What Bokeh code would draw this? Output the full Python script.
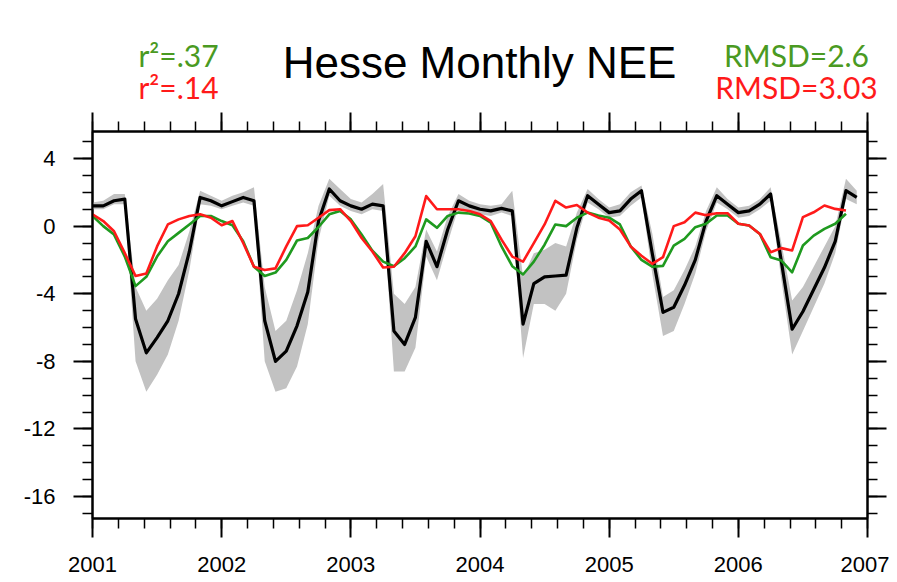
import numpy as np
from bokeh.plotting import figure
from bokeh.layouts import column
from bokeh.models import LinearAxis, FixedTicker, Range1d, ColumnDataSource
from bokeh.core.properties import value
from bokeh.embed import file_html
from bokeh.resources import INLINE

# ---- data (monthly, Jan 2001 .. Dec 2006) ----
years = [2001, 2002, 2003, 2004, 2005, 2006, 2007]
year_labels = ["2001", "2002", "2003", "2004", "2005", "2006", "2007"]
y_ticks = [-16, -12, -8, -4, 0, 4]
y_tick_labels = ["-16", "-12", "-8", "-4", "0", "4"]

title_text = "Hesse Monthly NEE"
stat_left = ["r\u00b2=.37", "r\u00b2=.14"]
stat_right = ["RMSD=2.6", "RMSD=3.03"]

obs_nee = [
    1.2, 1.2, 1.5, 1.6, -5.5, -7.5, -6.6, -5.6, -4.0, -1.5, 1.7, 1.5,
    1.2, 1.45, 1.7, 1.5, -5.6, -8.0, -7.4, -5.9, -3.9, 0.3, 2.2, 1.5,
    1.2, 1.0, 1.3, 1.2, -6.2, -7.0, -5.4, -0.9, -2.4, -0.2, 1.5, 1.2,
    1.0, 0.9, 1.05, 0.9, -5.8, -3.4, -3.0, -2.95, -2.9, -0.1, 1.8, 1.3,
    0.8, 0.9, 1.6, 2.1, -1.6, -5.1, -4.8, -3.5, -2.0, 0.3, 1.8, 1.3,
    0.8, 0.9, 1.3, 1.9, -2.1, -6.1, -5.05, -3.75, -2.45, -0.9, 2.1, 1.7,
]
obs_low = [
    1.0, 1.0, 1.3, 1.3, -8.0, -9.8, -8.8, -7.6, -5.6, -2.6, 1.3, 1.2,
    1.0, 1.2, 1.4, 1.2, -8.0, -9.8, -9.6, -8.3, -5.8, -0.8, 1.8, 1.2,
    0.9, 0.7, 1.0, 0.9, -8.6, -8.6, -7.2, -1.8, -3.2, -1.0, 1.1, 0.9,
    0.7, 0.6, 0.8, 0.6, -7.8, -4.6, -4.6, -5.0, -4.0, -0.8, 1.4, 1.0,
    0.5, 0.6, 1.2, 1.7, -2.8, -6.5, -6.2, -4.6, -2.8, -0.3, 1.4, 1.0,
    0.5, 0.6, 1.0, 1.5, -3.2, -7.6, -6.2, -4.8, -3.4, -1.6, 1.6, 1.3,
]
obs_high = [
    1.4, 1.5, 1.9, 1.9, -3.6, -5.0, -4.3, -3.2, -2.3, -0.3, 2.1, 1.8,
    1.5, 1.8, 2.0, 2.3, -3.6, -6.2, -5.6, -3.8, -1.6, 1.2, 2.8, 2.2,
    1.6, 1.4, 1.9, 2.5, -4.0, -4.6, -3.6, -0.2, -1.5, 0.6, 1.9, 1.5,
    1.3, 1.2, 1.3, 2.1, -3.0, -1.6, -1.4, -1.0, -1.2, 0.8, 2.2, 1.6,
    1.1, 1.3, 2.0, 2.4, -0.4, -4.2, -3.8, -2.6, -1.2, 0.9, 2.3, 1.6,
    1.1, 1.2, 1.6, 2.3, -1.0, -4.4, -3.6, -2.4, -1.2, 0.0, 2.8, 2.1,
]
model_green = [
    0.6, 0.0, -0.5, -1.8, -3.55, -3.0, -1.8, -0.9, -0.4, 0.1, 0.6, 0.6,
    0.3, 0.05, -0.9, -2.4, -2.95, -2.75, -2.0, -0.85, -0.7, -0.05, 0.7, 0.9,
    0.4, -0.5, -1.45, -2.1, -2.37, -1.9, -1.2, 0.4, -0.1, 0.6, 0.8, 0.75,
    0.6, 0.2, -1.2, -2.37, -2.86, -2.1, -1.1, 0.1, 0.0, 0.5, 0.8, 0.63,
    0.5, 0.1, -1.2, -2.0, -2.4, -2.35, -1.15, -0.75, -0.06, 0.14, 0.63, 0.63,
    0.14, 0.04, -0.46, -1.84, -2.04, -2.73, -1.15, -0.56, -0.16, 0.14, 0.73,
]
model_red = [
    0.7, 0.3, -0.3, -1.6, -2.95, -2.8, -1.2, 0.1, 0.4, 0.6, 0.7, 0.5,
    0.05, 0.3, -1.0, -2.4, -2.6, -2.5, -1.2, 0.0, 0.05, 0.5, 0.95, 1.0,
    0.3, -0.7, -1.5, -2.45, -2.4, -1.6, -0.6, 1.78, 1.0, 1.0, 1.0, 0.9,
    0.7, 0.3, -0.8, -1.8, -2.1, -1.0, 0.1, 1.5, 1.1, 1.25, 0.8, 0.5,
    0.33, -0.2, -1.2, -1.75, -2.23, -1.84, 0.0, 0.23, 0.8, 0.65, 0.76, 0.76,
    0.14, 0.04, -0.46, -1.54, -1.3, -1.44, 0.53, 0.82, 1.22, 1.02, 0.92,
]

month_index = np.arange(len(obs_nee))
x_obs = 2001 + month_index / 12.0
x_mod = x_obs[: len(model_green)]

GREEN_LINE = "#1f9a1f"
GREEN_TEXT = "#4a9a22"
RED = "#ff1a1a"

W = 889
TOP_H = 108
MAIN_H = 474

# ---------------- header (title + statistics) ----------------
head = figure(
    width=W, height=TOP_H, output_backend="svg", toolbar_location=None,
    x_range=Range1d(0, W), y_range=Range1d(TOP_H, 0),
    x_axis_location=None, y_axis_location=None,
    min_border_left=0, min_border_right=0, min_border_top=0, min_border_bottom=0,
)
if "frame_align" in head.properties():
    head.frame_align = False
head.outline_line_color = None
head.grid.visible = False
head.text(x=[479], y=[61.8], text=[title_text], text_align="center",
          text_baseline="middle", text_font=value("Liberation Sans"),
          text_font_size="44px", text_color="black")
head.text(x=[178, 178], y=[54.5, 86.5], text=stat_left, text_align="center",
          text_baseline="middle", text_font=value("Lato"),
          text_font_size="30px", text_color=[GREEN_TEXT, RED])
head.text(x=[796, 796], y=[54.5, 86.5], text=stat_right, text_align="center",
          text_baseline="middle", text_font=value("Lato"),
          text_font_size="30px", text_color=[GREEN_TEXT, RED])

# ---------------- main plot ----------------
p = figure(
    width=W, height=MAIN_H,
    output_backend="svg", toolbar_location=None,
    x_range=Range1d(2001, 2007), y_range=Range1d(-17.3, 5.6),
    min_border_left=92, min_border_right=22,
    min_border_top=23, min_border_bottom=64,
)
p.xgrid.visible = False
p.ygrid.visible = False
p.outline_line_color = "black"
p.outline_line_width = 2

x_ticker = FixedTicker(ticks=years, minor_ticks=[2001 + k * 0.2 for k in range(31)])
y_ticker = FixedTicker(ticks=y_ticks, minor_ticks=list(range(-17, 6)))


def style_axis(ax):
    ax.axis_line_color = "black"
    ax.axis_line_width = 2
    ax.major_tick_line_width = 2
    ax.minor_tick_line_width = 1.5
    ax.major_tick_in = 0
    ax.major_tick_out = 19
    ax.minor_tick_in = 0
    ax.minor_tick_out = 10
    ax.major_label_text_font = "Liberation Sans"
    ax.major_label_text_font_size = "22px"
    ax.major_label_text_color = "black"


xa = p.xaxis[0]
xa.ticker = x_ticker
xa.major_label_overrides = {y: s for y, s in zip(years, year_labels)}
style_axis(xa)
xa.major_label_standoff = 19

ya = p.yaxis[0]
ya.ticker = y_ticker
ya.major_label_overrides = {v: s for v, s in zip(y_ticks, y_tick_labels)}
style_axis(ya)
ya.major_label_standoff = 18

top = LinearAxis(ticker=x_ticker)
style_axis(top)
top.major_label_overrides = {y: "" for y in years}
top.major_label_text_font_size = "1px"
top.major_label_standoff = 0
p.add_layout(top, "above")

right = LinearAxis(ticker=y_ticker)
style_axis(right)
right.major_label_overrides = {v: "" for v in y_ticks}
right.major_label_text_font_size = "1px"
right.major_label_standoff = 0
p.add_layout(right, "right")

src_obs = ColumnDataSource(dict(x=x_obs, y=obs_nee, lo=obs_low, hi=obs_high))
src_mod = ColumnDataSource(dict(x=x_mod, g=model_green, r=model_red))

p.varea(x="x", y1="lo", y2="hi", source=src_obs, fill_color="#c2c2c2", fill_alpha=1.0)
p.line(x="x", y="y", source=src_obs, line_color="black", line_width=3.2, line_join="round")
p.line(x="x", y="g", source=src_mod, line_color=GREEN_LINE, line_width=2.6, line_join="round")
p.line(x="x", y="r", source=src_mod, line_color=RED, line_width=2.6, line_join="round")

layout = column(head, p, spacing=0)
open("out.html", "w").write(file_html(layout, INLINE))
